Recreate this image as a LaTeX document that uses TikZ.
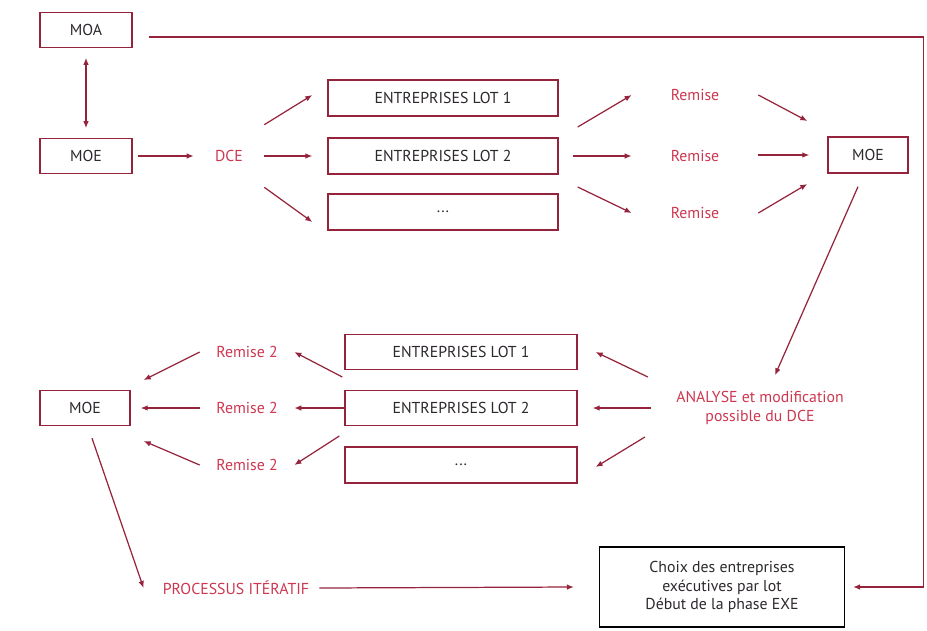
\documentclass[tikz,border=0pt]{standalone}
\usepackage{fontspec}
\setmainfont{PT Sans}
\usetikzlibrary{arrows.meta, positioning, calc}
\definecolor{qred}{RGB}{205, 55, 80}
\definecolor{qline}{RGB}{150, 35, 60}
\definecolor{qtext}{RGB}{45, 40, 45}

\tikzset{
    box/.style={draw=qline, line width=0.8pt, text=qtext, minimum height=0.72cm, inner sep=2pt, font=\fontsize{9}{10.5}\selectfont},
    lbl/.style={text=qred, inner sep=0pt, font=\fontsize{9}{10.5}\selectfont},
    flow/.style={draw=qline, line width=0.7pt, -{Latex[length=4pt, width=3.2pt]}},
}

\begin{document}
\begin{tikzpicture}[x=0.02cm, y=-0.02cm]
    \useasboundingbox (0,0) rectangle (927,630);
    % consultation
    \node[box, minimum width=1.84cm, minimum height=0.7cm] (moa) at (86,30) {MOA};
    \node[box, minimum width=1.84cm, minimum height=0.7cm] (moeA) at (86,156) {MOE};
    \node[lbl, minimum width=1.4cm, minimum height=1.24cm] (dce) at (229,156) {DCE};
    \node[box, minimum width=4.6cm] (eA1) at (443,98) {ENTREPRISES LOT 1};
    \node[box, minimum width=4.6cm] (eA2) at (443,156) {ENTREPRISES LOT 2};
    \node[box, minimum width=4.6cm] (eA3) at (443,212) {...};
    \node[lbl, minimum width=2.52cm] (rA1) at (695,95) {Remise};
    \node[lbl, minimum width=2.52cm] (rA2) at (695,156) {Remise};
    \node[lbl, minimum width=2.52cm] (rA3) at (695,213) {Remise};
    \node[box, minimum width=1.6cm] (moeB) at (868,155) {MOE};

    % second tour
    \node[lbl, align=center] (analyse) at (760,408) {ANALYSE et modification\\possible du DCE};
    \node[box, minimum width=4.64cm, minimum height=0.7cm] (eB1) at (461,352) {ENTREPRISES LOT 1};
    \node[box, minimum width=4.64cm, minimum height=0.7cm] (eB2) at (461,408) {ENTREPRISES LOT 2};
    \node[box, minimum width=4.64cm] (eB3) at (461,465) {...};
    \node[lbl, minimum width=1.88cm] (rB1) at (247,352) {Remise 2};
    \node[lbl, minimum width=1.88cm] (rB2) at (247,408) {Remise 2};
    \node[lbl, minimum width=1.88cm] (rB3) at (247,465) {Remise 2};
    \node[box, minimum width=1.8cm, minimum height=0.7cm] (moeC) at (85,408) {MOE};
    \node[lbl] (proc) at (236,588) {PROCESSUS ITÉRATIF};
    \node[draw=black, line width=0.8pt, text=qtext, align=center, minimum width=4.9cm, minimum height=1.6cm,
          font=\fontsize{9}{10.5}\selectfont] (choix) at (722,587)
          {Choix des entreprises\\exécutives par lot\\Début de la phase EXE};

    % arrows
    \draw[flow, {Latex[length=4pt, width=3.2pt]}-{Latex[length=4pt, width=3.2pt]}, shorten <=5.5pt, shorten >=5.5pt] (moa) -- (moeA);
    \draw[flow, shorten >=4.5pt] ([shift={(16,7)}]moa.east) -| ([shift={(78,0)}]choix.east) -- (choix.east);
    \draw[flow] ([shift={(5,0)}]moeA.east) -- (dce.west);
    \draw[flow] (dce.north east) -- ([shift={(-15,-3)}]eA1.west);
    \draw[flow] (dce.east) -- ([shift={(-15,0)}]eA2.west);
    \draw[flow] (dce.south east) -- ([shift={(-15,10)}]eA3.west);
    \draw[flow] ([shift={(19,29)}]eA1.east) -- (rA1.west);
    \draw[flow] ([shift={(14,0)}]eA2.east) -- (rA2.west);
    \draw[flow] ([shift={(19,-25)}]eA3.east) -- (rA3.west);
    \draw[flow] (rA1.east) -- ([shift={(-20,-34)}]moeB.west);
    \draw[flow] (rA2.east |- moeB.west) -- ([shift={(-18,0)}]moeB.west);
    \draw[flow] (rA3.east) -- ([shift={(-20,29)}]moeB.west);
    \draw[flow] ([shift={(-10,13)}]moeB.south) -- ([shift={(15,-16)}]analyse.north);
    \draw[flow] ([shift={(-28,-31)}]analyse.west) -- ([shift={(18,0)}]eB1.east);
    \draw[flow] ([shift={(-25,0)}]analyse.west) -- ([shift={(15,0)}]eB2.east);
    \draw[flow] ([shift={(-31,29)}]analyse.west) -- ([shift={(18,2)}]eB3.east);
    \draw[flow] ([shift={(-2,25)}]eB1.west) -- (rB1.east);
    \draw[flow] (eB2.west) -- (rB2.east);
    \draw[flow] ([shift={(-5,-29)}]eB3.west) -- (rB3.east);
    \draw[flow] (rB1.west) -- ([shift={(13,-28)}]moeC.east);
    \draw[flow] (rB2.west) -- ([shift={(10,0)}]moeC.east);
    \draw[flow] (rB3.west) -- ([shift={(13,33)}]moeC.east);
    \draw[flow] ([shift={(7,12)}]moeC.south) -- ([shift={(-19,0)}]proc.west);
    \draw[flow] ([shift={(10,0)}]proc.east) -- ([shift={(-25,0)}]choix.west);
\end{tikzpicture}
\end{document}
